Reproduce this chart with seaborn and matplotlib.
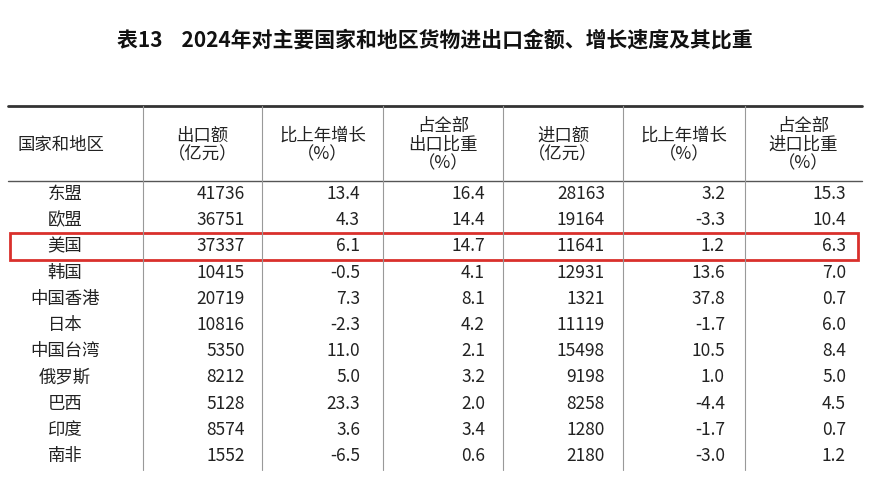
import matplotlib
matplotlib.use("Agg")
import matplotlib.pyplot as plt
import seaborn as sns
from matplotlib.patches import Rectangle

sns.set_theme(style="white")
plt.rcParams["font.family"] = ["Noto Sans CJK SC", "DejaVu Sans"]

title = "表13    2024年对主要国家和地区货物进出口金额、增长速度及其比重"
headers = ["国家和地区", "出口额\n（亿元）", "比上年增长\n（%）", "占全部\n出口比重\n（%）",
           "进口额\n（亿元）", "比上年增长\n（%）", "占全部\n进口比重\n（%）"]
regions = ["东盟", "欧盟", "美国", "韩国", "中国香港", "日本", "中国台湾", "俄罗斯", "巴西", "印度", "南非"]
export_amt = ["41736", "36751", "37337", "10415", "20719", "10816", "5350", "8212", "5128", "8574", "1552"]
export_growth = ["13.4", "4.3", "6.1", "-0.5", "7.3", "-2.3", "11.0", "5.0", "23.3", "3.6", "-6.5"]
export_share = ["16.4", "14.4", "14.7", "4.1", "8.1", "4.2", "2.1", "3.2", "2.0", "3.4", "0.6"]
import_amt = ["28163", "19164", "11641", "12931", "1321", "11119", "15498", "9198", "8258", "1280", "2180"]
import_growth = ["3.2", "-3.3", "1.2", "13.6", "37.8", "-1.7", "10.5", "1.0", "-4.4", "-1.7", "-3.0"]
import_share = ["15.3", "10.4", "6.3", "7.0", "0.7", "6.0", "8.4", "5.0", "4.5", "0.7", "1.2"]
highlight = "美国"

W, H = 870, 492
fig = plt.figure(figsize=(W / 100, H / 100), dpi=100)
ax = fig.add_axes([0, 0, 1, 1])
ax.set_xlim(0, W)
ax.set_ylim(H, 0)
ax.axis("off")

ax.text(435, 40, title, ha="center", va="center", fontsize=15, fontweight="bold", color="#111")

col_edges = [8, 143, 262, 383, 503, 623, 745, 862]
ax.plot([8, 862], [106, 106], color="#333", lw=2)
ax.plot([8, 862], [181, 181], color="#555", lw=1)
for x in col_edges[1:-1]:
    ax.plot([x, x], [106, 470], color="#999", lw=0.8)

fs = 12.5
hdr_y = 145
ax.text(18, hdr_y, headers[0], ha="left", va="center", fontsize=fs, color="#222")
for i, h in enumerate(headers[1:], start=1):
    cx = (col_edges[i] + col_edges[i + 1]) / 2
    ax.text(cx, hdr_y, h, ha="center", va="center", fontsize=fs, color="#222", linespacing=1.05)

cols = [export_amt, export_growth, export_share, import_amt, import_growth, import_share]
right_x = [245, 360, 485, 605, 725, 846]
y0, dy = 194, 26.2
for r, name in enumerate(regions):
    y = y0 + r * dy
    ax.text(65, y, name, ha="center", va="center", fontsize=fs, color="#222")
    for c, vals in enumerate(cols):
        ax.text(right_x[c], y, vals[r], ha="right", va="center", fontsize=fs, color="#222")
    if name == highlight:
        ax.add_patch(Rectangle((10, y - 13), 848, 27, fill=False, edgecolor="#d9302c", lw=2))

fig.savefig("out.png", dpi=100, facecolor="white")
